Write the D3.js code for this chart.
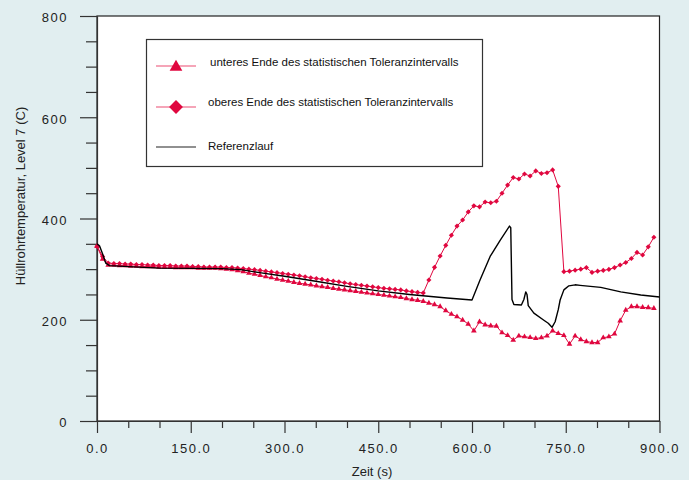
<!DOCTYPE html>
<meta charset="utf-8">
<script src="https://d3js.org/d3.v7.min.js"></script>
<style>
  body { margin: 0; background: #e1eef0; }
  .tickText { font: 13px "Liberation Sans", Arial, sans-serif; letter-spacing: 1.5px; fill: #222; }
  .axisTitle { font: 13px "Liberation Sans", Arial, sans-serif; fill: #222; }
  .legendText { font: 11.5px "Liberation Sans", Arial, sans-serif; fill: #111; }
</style>
<div id="chart"></div>
<script>

// sample times (s) of the two tolerance limits
const times = [0, 9, 18, 27, 36, 45, 54, 63, 72, 81, 90, 99, 108, 117, 126, 135, 144, 153, 162, 171,
  180, 189, 198, 207, 216, 225, 234, 243, 252, 261, 270, 279, 288, 297, 306, 315, 324, 333, 342, 351,
  360, 369, 378, 387, 396, 405, 414, 423, 432, 441, 450, 459, 468, 477, 486, 495, 504, 513, 522, 531,
  540, 549, 558, 567, 576, 585, 594, 603, 612, 621, 630, 639, 648, 657, 666, 675, 684, 693, 702, 711,
  720, 729, 738, 747, 756, 765, 774, 783, 792, 801, 810, 819, 828, 837, 846, 855, 864, 873, 882, 891];

// lower end of the tolerance interval
const lowerTemp = [345, 320, 308, 308, 307, 307, 306, 306, 305, 305, 305, 304, 304, 304, 303, 303, 303, 303, 302, 302,
  302, 302, 301, 300, 299, 297, 295, 292, 290, 287.5, 285, 283, 280.5, 278.5, 276.5, 274, 272, 270.5, 269, 267,
  265.5, 264, 262, 260.5, 259, 257.5, 256, 254.5, 253, 251.5, 250, 248.5, 247, 245.5, 244, 242, 240, 238.5, 236.5, 233,
  230, 226, 218, 211, 206, 199.5, 191.5, 178, 196, 190, 188, 187.5, 174.5, 169, 160, 168, 166.5, 165, 163, 164.5,
  168, 178, 173, 169, 152, 168, 161, 157, 155, 155, 164.5, 166.5, 172, 198, 219, 226, 226, 224.5, 224, 222.5];

// upper end of the tolerance interval
const upperTemp = [345, 325, 312, 311, 311, 310, 310, 309, 309, 308, 308, 307, 307, 307, 306, 306, 306, 305, 305, 304,
  304, 304, 304, 303, 303, 302, 301, 300, 299, 297.5, 296, 294.5, 293, 291.5, 290, 288.5, 287, 285, 283, 281.5,
  280, 278, 276.5, 275, 273, 271, 269.5, 268, 266.5, 265, 263.5, 262, 261, 260, 259, 257, 255.5, 254, 253, 278.5,
  303.5, 326, 347, 367, 385, 397, 413, 425, 423, 432.5, 431, 434, 450, 466, 481, 478, 488, 484, 494, 489,
  490.5, 496, 463.5, 295, 296, 298, 300, 303, 293.5, 296, 297.5, 299.5, 303, 308, 313, 321, 333, 328, 344, 363];

// reference run
const refTime = [0, 4, 9, 14, 20, 50, 100, 200, 230, 260, 300, 350, 400, 450, 500, 560, 600, 613, 629, 645,
  660, 662, 664, 667, 679, 683, 686, 688, 690, 699, 715, 722, 728, 733, 738, 741, 747, 755, 765, 773,
  806, 838, 870, 900];
const refTemp = [350, 346, 330, 312, 307, 305, 302, 301, 299, 293, 286, 276, 266, 257, 250, 243, 239, 279, 325, 357,
  385, 382, 240, 230, 229, 240, 255, 250, 228, 213, 199, 193, 185, 196, 220, 239, 259, 267, 269, 268,
  264, 255, 249, 245];

const xMajor = [0, 150, 300, 450, 600, 750, 900];
const xMinor = [50, 100, 200, 250, 350, 400, 500, 550, 650, 700, 800, 850];
const yMajor = [0, 200, 400, 600, 800];
const yMinor = [50, 100, 150, 250, 300, 350, 450, 500, 550, 650, 700, 750];

const legendLabels = ["unteres Ende des statistischen Toleranzintervalls",
  "oberes Ende des statistischen Toleranzintervalls", "Referenzlauf"];

const W = 689, H = 480;
const red = "#e0073f";

const svg = d3.select("#chart").append("svg")
  .attr("width", W).attr("height", H);

const x = d3.scaleLinear().domain([0, 900]).range([97, 659.5]);
const y = d3.scaleLinear().domain([0, 800]).range([421, 16]);

// plot area
svg.append("rect")
  .attr("x", x(0)).attr("y", y(800))
  .attr("width", x(900) - x(0)).attr("height", y(0) - y(800))
  .attr("fill", "#fff")
  .attr("stroke", "#222").attr("stroke-width", 1.2);

// y axis
svg.append("g")
  .attr("transform", `translate(${x(0)},0)`)
  .call(d3.axisLeft(y).tickValues(yMinor).tickSize(11).tickSizeOuter(0).tickFormat(""))
  .call(g => g.select(".domain").remove())
  .call(g => g.selectAll("line").attr("stroke", "#333").attr("stroke-width", 1.2));
svg.append("g")
  .attr("transform", `translate(${x(0)},0)`)
  .call(d3.axisLeft(y).tickValues(yMajor).tickSize(17).tickSizeOuter(0).tickPadding(12).tickFormat(d3.format("d")))
  .call(g => g.select(".domain").attr("stroke", "#333").attr("stroke-width", 1.2))
  .call(g => g.selectAll("line").attr("stroke", "#333").attr("stroke-width", 1.2))
  .call(g => g.selectAll("text").attr("class", "tickText").attr("font-size", null).attr("font-family", null).attr("dy", "0.45em"));

// x axis
svg.append("g")
  .attr("transform", `translate(0,${y(0)})`)
  .call(d3.axisBottom(x).tickValues(xMinor).tickSize(7).tickSizeOuter(0).tickFormat(""))
  .call(g => g.select(".domain").remove())
  .call(g => g.selectAll("line").attr("stroke", "#333").attr("stroke-width", 1.2));
svg.append("g")
  .attr("transform", `translate(0,${y(0)})`)
  .call(d3.axisBottom(x).tickValues(xMajor).tickSize(12).tickSizeOuter(0).tickPadding(11).tickFormat(d3.format(".1f")))
  .call(g => g.select(".domain").attr("stroke", "#333").attr("stroke-width", 1.2))
  .call(g => g.selectAll("line").attr("stroke", "#333").attr("stroke-width", 1.2))
  .call(g => g.selectAll("text").attr("class", "tickText").attr("font-size", null).attr("font-family", null));

// axis titles
svg.append("text")
  .attr("class", "axisTitle")
  .attr("text-anchor", "middle")
  .attr("x", 372).attr("y", 476)
  .text("Zeit (s)");
svg.append("text")
  .attr("class", "axisTitle")
  .attr("text-anchor", "middle")
  .attr("transform", "translate(25,196) rotate(-90)")
  .text("Hüllrohrtemperatur, Level 7 (C)");

// series
const line = d3.line().x(d => x(d[0])).y(d => y(d[1]));
const lowerPts = times.map((t, i) => [t, lowerTemp[i]]);
const upperPts = times.map((t, i) => [t, upperTemp[i]]);
const refPts = refTime.map((t, i) => [t, refTemp[i]]);

svg.append("path").datum(lowerPts)
  .attr("d", line).attr("fill", "none").attr("stroke", red).attr("stroke-width", 1);
svg.append("path").datum(upperPts)
  .attr("d", line).attr("fill", "none").attr("stroke", red).attr("stroke-width", 1);

const tri = d3.symbol().type(d3.symbolTriangle).size(14);
const dia = d3.symbol().type(d3.symbolSquare).size(13);

svg.selectAll(".lowMark").data(lowerPts).join("path")
  .attr("class", "lowMark")
  .attr("d", tri)
  .attr("transform", d => `translate(${x(d[0])},${y(d[1])})`)
  .attr("fill", red);
svg.selectAll(".upMark").data(upperPts).join("path")
  .attr("class", "upMark")
  .attr("d", dia)
  .attr("transform", d => `translate(${x(d[0])},${y(d[1])}) rotate(45)`)
  .attr("fill", red);

svg.append("path").datum(refPts)
  .attr("d", line).attr("fill", "none").attr("stroke", "#000").attr("stroke-width", 1.4)
  .attr("stroke-linejoin", "round");

// legend
const lg = svg.append("g");
lg.append("rect")
  .attr("x", 146.5).attr("y", 39.5).attr("width", 336).attr("height", 127)
  .attr("fill", "#fff").attr("stroke", "#333").attr("stroke-width", 1.2);
const rowY = [66, 107, 147];
const textY = [66, 106, 150];
const textX = [210, 208, 208];
lg.selectAll(".legLine").data(rowY).join("line")
  .attr("x1", 156).attr("x2", 196)
  .attr("y1", d => d).attr("y2", d => d)
  .attr("stroke", (d, i) => i < 2 ? "#ec4d72" : "#222")
  .attr("stroke-width", 1.2);
lg.append("path")
  .attr("d", d3.symbol().type(d3.symbolTriangle).size(70))
  .attr("transform", `translate(176,${rowY[0] + 1})`)
  .attr("fill", red);
lg.append("path")
  .attr("d", d3.symbol().type(d3.symbolSquare).size(96))
  .attr("transform", `translate(176,${rowY[1]}) rotate(45)`)
  .attr("fill", red);
lg.selectAll(".legendText").data(legendLabels).join("text")
  .attr("class", "legendText")
  .attr("x", (d, i) => textX[i])
  .attr("y", (d, i) => textY[i])
  .text(d => d);

</script>
